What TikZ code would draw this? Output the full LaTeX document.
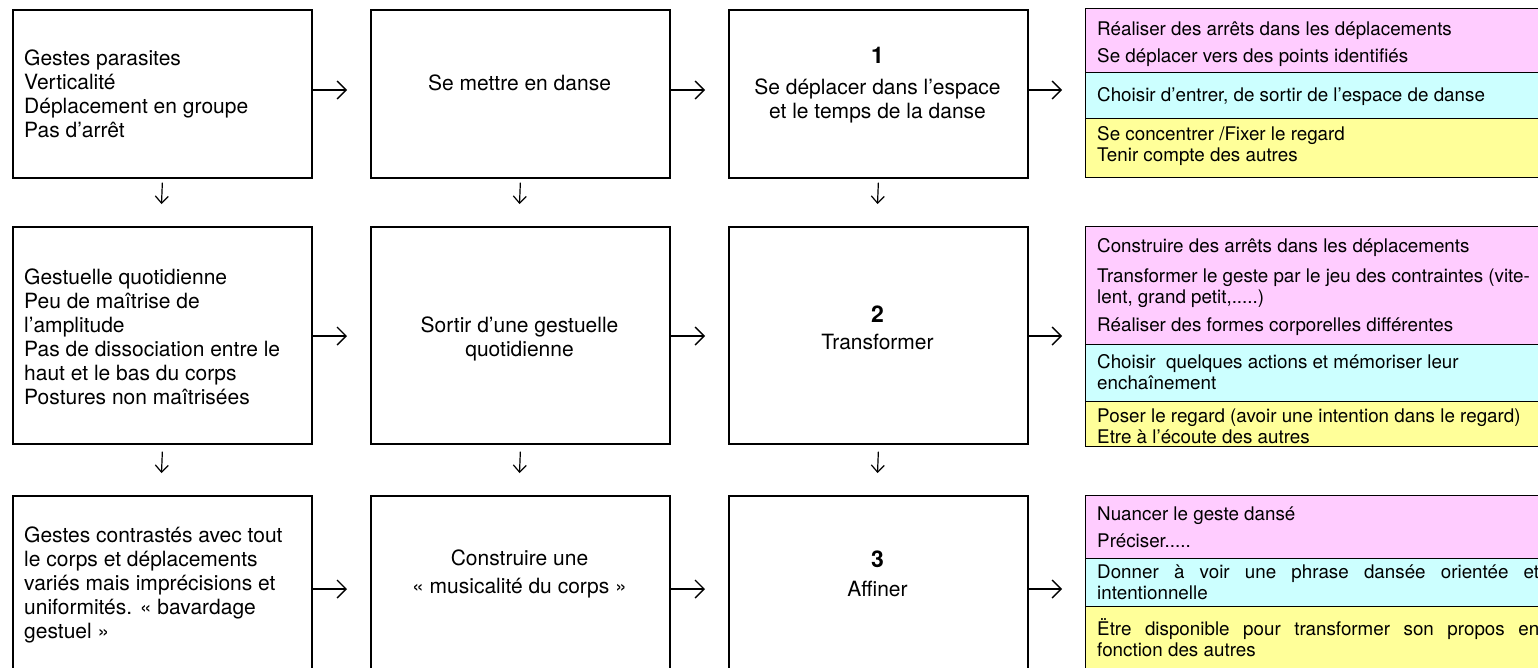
\documentclass[tikz,border=0pt]{standalone}
\usepackage{fontspec}
\setmainfont{TeX Gyre Heros}
\usetikzlibrary{arrows.meta}
\definecolor{cpink}{RGB}{255,204,255}
\definecolor{ccyan}{RGB}{204,255,255}
\definecolor{cyell}{RGB}{255,255,153}
\newcommand\txtL{\fontsize{21}{24}\selectfont}
\newcommand\txtS{\fontsize{18.8}{21.5}\selectfont}
\newcommand\numtxt[1]{{\fontsize{23}{24}\selectfont\bfseries #1}}
\newcommand\lines[2]{\begin{tabular}[t]{@{}#1@{}}#2\end{tabular}}
\begin{document}
\begin{tikzpicture}[x=1pt,y=-1pt,
  box/.style={draw, line width=1.7pt, anchor=north west, minimum width=299pt, inner sep=0pt},
  cell/.style={draw, line width=1.4pt, anchor=north west, minimum width=467pt, inner sep=0pt},
  ltxt/.style={anchor=base west, inner sep=0pt, font=\txtL},
  ctxt/.style={anchor=base, inner sep=0pt, font=\txtL},
  rtxt/.style={anchor=base west, inner sep=0pt, font=\txtS},
  harr/.style={line width=1.4pt, -{Straight Barb[length=9pt,width=18pt,line width=1.4pt]}},
  varr/.style={line width=1.2pt, -{Straight Barb[length=7pt,width=13pt,line width=1.2pt]}}]

\fill[white] (0,0) rectangle (1538,667);
\useasboundingbox (0,0) rectangle (1538,667);

% main boxes
\node[box, minimum height=168pt] (b11) at (12,9) {};
\node[box, minimum height=168pt] (b12) at (370,9) {};
\node[box, minimum height=168pt] (b13) at (728,9) {};
\node[box, minimum height=217pt] (b21) at (12,226) {};
\node[box, minimum height=217pt] (b22) at (370,226) {};
\node[box, minimum height=217pt] (b23) at (728,226) {};
\node[box, minimum height=190pt] (b31) at (12,495) {};
\node[box, minimum height=190pt] (b32) at (370,495) {};
\node[box, minimum height=190pt] (b33) at (728,495) {};

% coloured cells
\node[cell, fill=cpink, minimum height=64pt] (p1) at (1085,8) {};
\node[cell, fill=ccyan, minimum height=46pt] (c1) at (1085,72) {};
\node[cell, fill=cyell, minimum height=59pt] (y1) at (1085,118) {};
\node[cell, fill=cpink, minimum height=118pt] (p2) at (1085,226) {};
\node[cell, fill=ccyan, minimum height=57pt] (c2) at (1085,344) {};
\node[cell, fill=cyell, minimum height=45pt] (y2) at (1085,401) {};
\node[cell, fill=cpink, minimum height=63pt] (p3) at (1085,495) {};
\node[cell, fill=ccyan, minimum height=48pt] (c3) at (1085,558) {};
\node[cell, fill=cyell, minimum height=94pt] (y3) at (1085,606) {};

% texts column 1
\node[ltxt] (t11) at (24,65) {\lines{l}{Gestes parasites\\Verticalité\\Déplacement en groupe\\Pas d’arrêt}};
\node[ltxt] (t21) at (24,284) {\lines{l}{Gestuelle quotidienne\\Peu de maîtrise de\\l’amplitude\\Pas de dissociation entre le\\haut et le bas du corps\\Postures non maîtrisées}};
\node[ltxt] (t31) at (24,542) {\lines{l}{Gestes contrastés avec tout\\le corps et déplacements\\variés mais imprécisions et\\uniformités. « bavardage\\gestuel »}};

% texts column 2
\node[ctxt] (t12) at (519.5,90) {Se mettre en danse};
\node[ctxt] (t22) at (519.5,332) {\lines{c}{Sortir d’une gestuelle\\quotidienne}};
\node[ctxt] (t32) at (519.5,565) {\lines{c}{Construire une\\[4pt]« musicalité du corps »}};

% texts column 3
\node[ctxt] (t13) at (877.5,63) {\lines{c}{\numtxt{1}\\[7pt]Se déplacer dans l’espace\\et le temps de la danse}};
\node[ctxt] (t23) at (877.5,322) {\lines{c}{\numtxt{2}\\[3pt]Transformer}};
\node[ctxt] (t33) at (877.5,567) {\lines{c}{\numtxt{3}\\[5pt]Affiner}};

% texts right column
\node[rtxt] (r1a) at (1097,35) {Réaliser des arrêts dans les déplacements};
\node[rtxt] (r1b) at (1097,62) {Se déplacer vers des points identifiés};
\node[rtxt] (r1c) at (1097,101) {Choisir d’entrer, de sortir de l’espace de danse};
\node[rtxt] (r1d) at (1097,140) {\lines{l}{Se concentrer /Fixer le regard\\Tenir compte des autres}};

\node[rtxt] (r2a) at (1097,252) {Construire des arrêts dans les déplacements};
\node[rtxt] (r2b) at (1097,282) {\lines{l}{Transformer le geste par le jeu des contraintes (vite-\\lent, grand petit,.....)}};
\node[rtxt] (r2c) at (1097,331) {Réaliser des formes corporelles différentes};
\node[rtxt] (r2d) at (1097,368) {\lines{l}{Choisir~ quelques actions et mémoriser leur\\enchaînement}};
\node[rtxt] (r2e) at (1097,422) {\lines{l}{Poser le regard (avoir une intention dans le regard)\\Etre à l’écoute des autres}};

\node[rtxt] (r3a) at (1097,520) {Nuancer le geste dansé};
\node[rtxt] (r3b) at (1097,547) {Préciser.....};
\node[rtxt] (r3c) at (1097,578) {\parbox[t]{442pt}{Donner à voir une phrase dansée orientée et\linebreak intentionnelle}};
\node[rtxt] (r3d) at (1097,635) {\parbox[t]{442pt}{Ëtre disponible pour transformer son propos en\linebreak fonction des autres}};

% horizontal arrows
\coordinate (h11) at (347,90);
\coordinate (h12) at (705,90);
\coordinate (h13) at (1062,90);
\coordinate (h21) at (347,336);
\coordinate (h22) at (705,336);
\coordinate (h23) at (1062,336);
\coordinate (h31) at (347,589);
\coordinate (h32) at (705,589);
\coordinate (h33) at (1062,589);
\draw[harr] (b11.east |- h11) -- (h11);
\draw[harr] (b12.east |- h12) -- (h12);
\draw[harr] (b13.east |- h13) -- (h13);
\draw[harr] (b21.east |- h21) -- (h21);
\draw[harr] (b22.east |- h22) -- (h22);
\draw[harr] (b23.east |- h23) -- (h23);
\draw[harr] (b31.east |- h31) -- (h31);
\draw[harr] (b32.east |- h32) -- (h32);
\draw[harr] (b33.east |- h33) -- (h33);

% vertical arrows
\coordinate (v11) at (161.5,204);
\coordinate (v12) at (519.5,204);
\coordinate (v13) at (877.5,204);
\coordinate (v21) at (161.5,473);
\coordinate (v22) at (519.5,473);
\coordinate (v23) at (877.5,473);
\draw[varr] ([yshift=-4pt]b11.south) -- (v11);
\draw[varr] ([yshift=-4pt]b12.south) -- (v12);
\draw[varr] ([yshift=-4pt]b13.south) -- (v13);
\draw[varr] ([yshift=-7pt]b21.south) -- (v21);
\draw[varr] ([yshift=-7pt]b22.south) -- (v22);
\draw[varr] ([yshift=-7pt]b23.south) -- (v23);
\end{tikzpicture}
\end{document}
